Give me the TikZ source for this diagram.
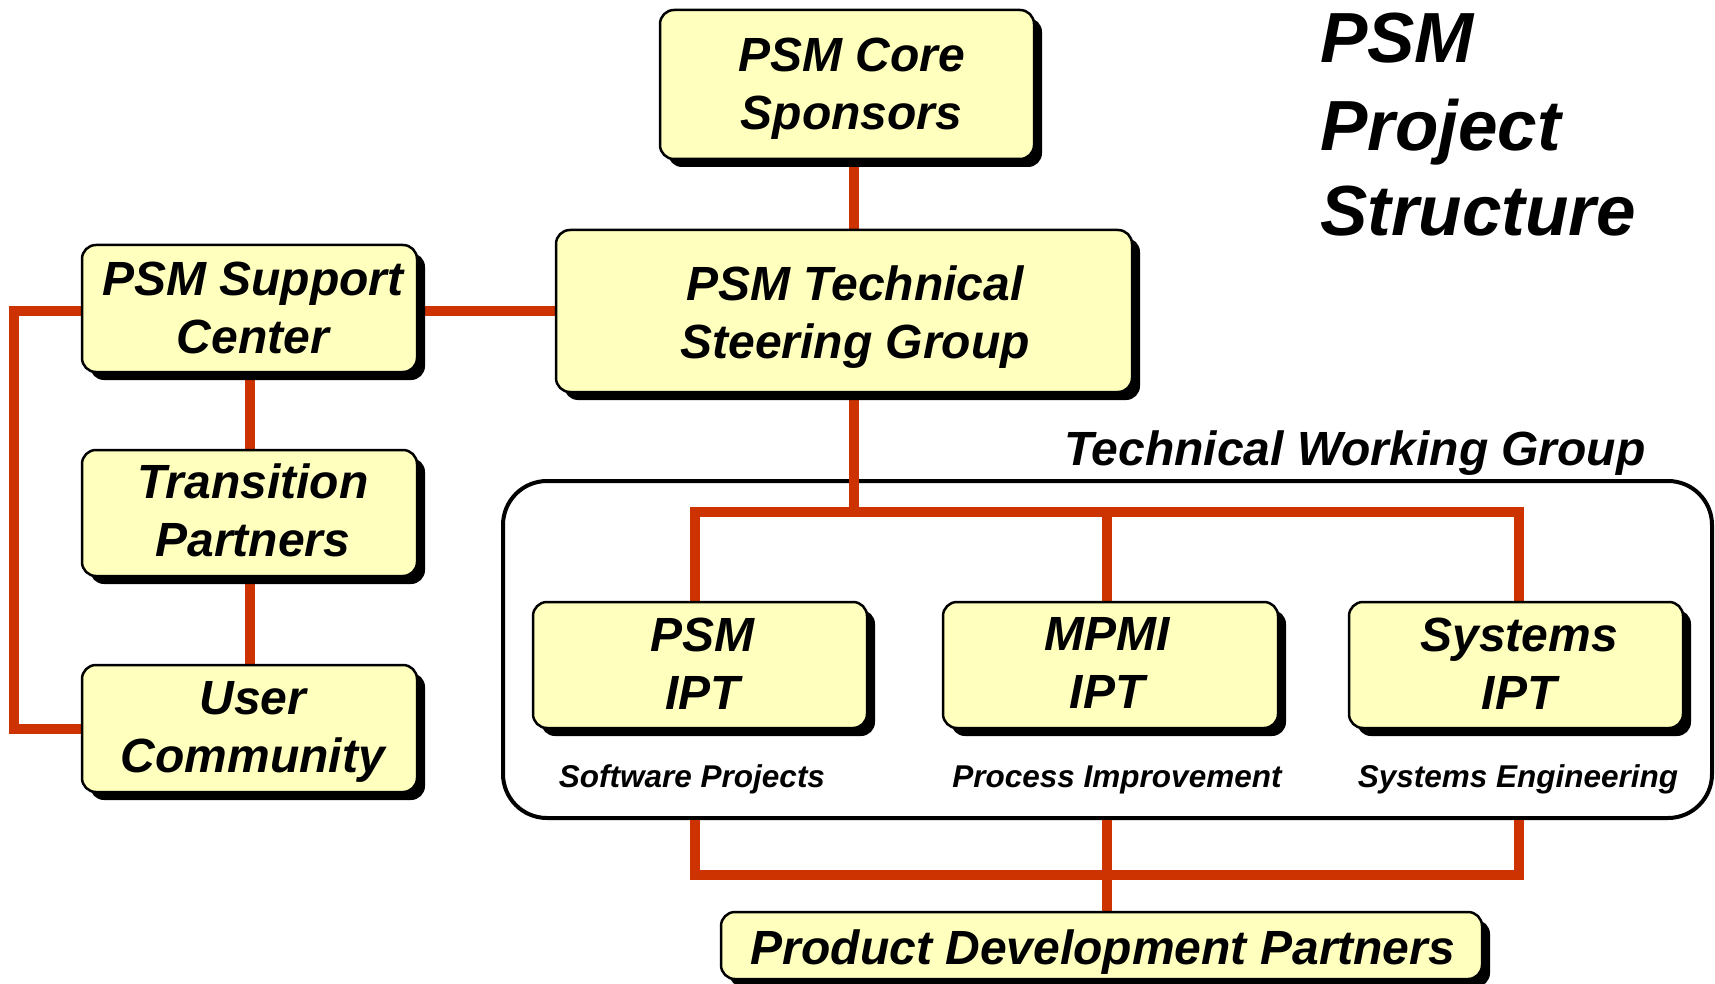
\documentclass[tikz,border=0pt]{standalone}
\usepackage{fontspec}
\setmainfont{Liberation Sans}
\usetikzlibrary{shadows}
\definecolor{boxfill}{RGB}{255,255,190}
\definecolor{linkred}{RGB}{204,51,0}
\pgfdeclarelayer{back}
\pgfdeclarelayer{links}
\pgfsetlayers{back,links,main}
\begin{document}
\begin{tikzpicture}[x=1pt,y=-1pt,
  box/.style={draw=black, line width=2.5pt, fill=boxfill, rounded corners=14pt,
    inner sep=0pt,
    drop shadow={shadow xshift=8pt, shadow yshift=-8pt, fill=black, opacity=1}},
  boxlabel/.style={align=center, inner sep=0pt,
    font=\fontsize{48}{58}\selectfont\bfseries\itshape},
  link/.style={draw=linkred, line width=10pt},
  caption/.style={font=\fontsize{31.5}{36}\selectfont\bfseries\itshape, inner sep=0pt},
  heading/.style={font=\fontsize{48}{58}\selectfont\bfseries\itshape, inner sep=0pt, anchor=base west},
  titletext/.style={font=\fontsize{71}{88}\selectfont\bfseries\itshape, inner sep=0pt, anchor=base west}
]
\useasboundingbox (0,0) rectangle (1715,984);

% boxes
\node[box, minimum width=374pt, minimum height=149pt] (core) at (847,84.5) {};
\node[box, minimum width=576pt, minimum height=162pt] (tsg) at (844,311) {};
\node[box, minimum width=335pt, minimum height=127pt] (support) at (249.5,308.5) {};
\node[box, minimum width=335pt, minimum height=126pt] (trans) at (249.5,513) {};
\node[box, minimum width=335pt, minimum height=127pt] (user) at (249.5,728.5) {};
\node[box, minimum width=334pt, minimum height=126pt] (psm) at (700,665) {};
\node[box, minimum width=335pt, minimum height=126pt] (mpmi) at (1110.5,665) {};
\node[box, minimum width=334pt, minimum height=126pt] (sys) at (1516,665) {};
\node[box, minimum width=761pt, minimum height=67pt] (pdp) at (1101.5,945.5) {};

% box texts
\node[boxlabel, xshift=4.4pt, yshift=-4.4pt] (coreT) at (core) {PSM Core\\Sponsors};
\node[boxlabel, xshift=11pt, yshift=-6.5pt] (tsgT) at (tsg) {PSM Technical\\Steering Group};
\node[boxlabel, xshift=3.3pt, yshift=1pt] (supportT) at (support) {PSM Support\\Center};
\node[boxlabel, xshift=3.3pt, yshift=2.2pt] (transT) at (trans) {Transition\\Partners};
\node[boxlabel, xshift=3.3pt, yshift=-3.3pt] (userT) at (user) {User\\Community};
\node[boxlabel, xshift=2.7pt, yshift=1.6pt] (psmT) at (psm) {PSM\\IPT};
\node[boxlabel, xshift=-3.3pt, yshift=1.6pt] (mpmiT) at (mpmi) {MPMI\\IPT};
\node[boxlabel, xshift=3.3pt, yshift=1.6pt] (sysT) at (sys) {Systems\\IPT};
\node[boxlabel, xshift=1.5pt, yshift=-6.5pt] (pdpT) at (pdp) {Product Development Partners};

% captions and labels
\node[caption] (cap1) at (692,779.5) {Software Projects};
\node[caption] (cap2) at (1117,779.5) {Process Improvement};
\node[caption] (cap3) at (1518,779.5) {Systems Engineering};
\node[heading] (twglabel) at (1064,465) {Technical Working Group};
\node[titletext] (title1) at (1320,63) {PSM};
\node[titletext] (title2) at (1320,151) {Project};
\node[titletext] (title3) at (1320,236) {Structure};

% container
\begin{pgfonlayer}{back}
\node[draw=black, line width=4pt, rounded corners=44pt, minimum width=1209pt,
  minimum height=337pt, inner sep=0pt] (twg) at (1107.5,649.5) {};
\end{pgfonlayer}

% helper coordinates
\coordinate (spine) at (853.5,0);
\coordinate (leftrail) at (14,0);
\coordinate (sidelink) at (0,311);
\coordinate (topbus) at (0,512);
\coordinate (botbus) at (0,875);
\coordinate (d1) at (695,0);
\coordinate (d2) at (1107,0);
\coordinate (d3) at (1519,0);

\begin{pgfonlayer}{links}
\draw[link] (core.south -| spine) -- (tsg.north -| spine);
\draw[link] (support.east |- sidelink) -- (tsg.west |- sidelink);
\draw[link, line join=miter] (support.west |- sidelink) -- (leftrail |- sidelink) |- (user.west);
\draw[link] (support.south) -- (trans.north);
\draw[link] (trans.south) -- (user.north);
\draw[link] (tsg.south -| spine) -- (topbus -| spine);
\draw[link, line join=miter] (psm.north -| d1) -- (topbus -| d1) -- (topbus -| d3) -- (sys.north -| d3);
\draw[link] (mpmi.north -| d2) -- (topbus -| d2);
\draw[link, line join=miter] (twg.south -| d1) -- (botbus -| d1) -- (botbus -| d3) -- (twg.south -| d3);
\draw[link] (twg.south -| d2) -- (pdp.north -| d2);
\end{pgfonlayer}
\end{tikzpicture}
\end{document}
